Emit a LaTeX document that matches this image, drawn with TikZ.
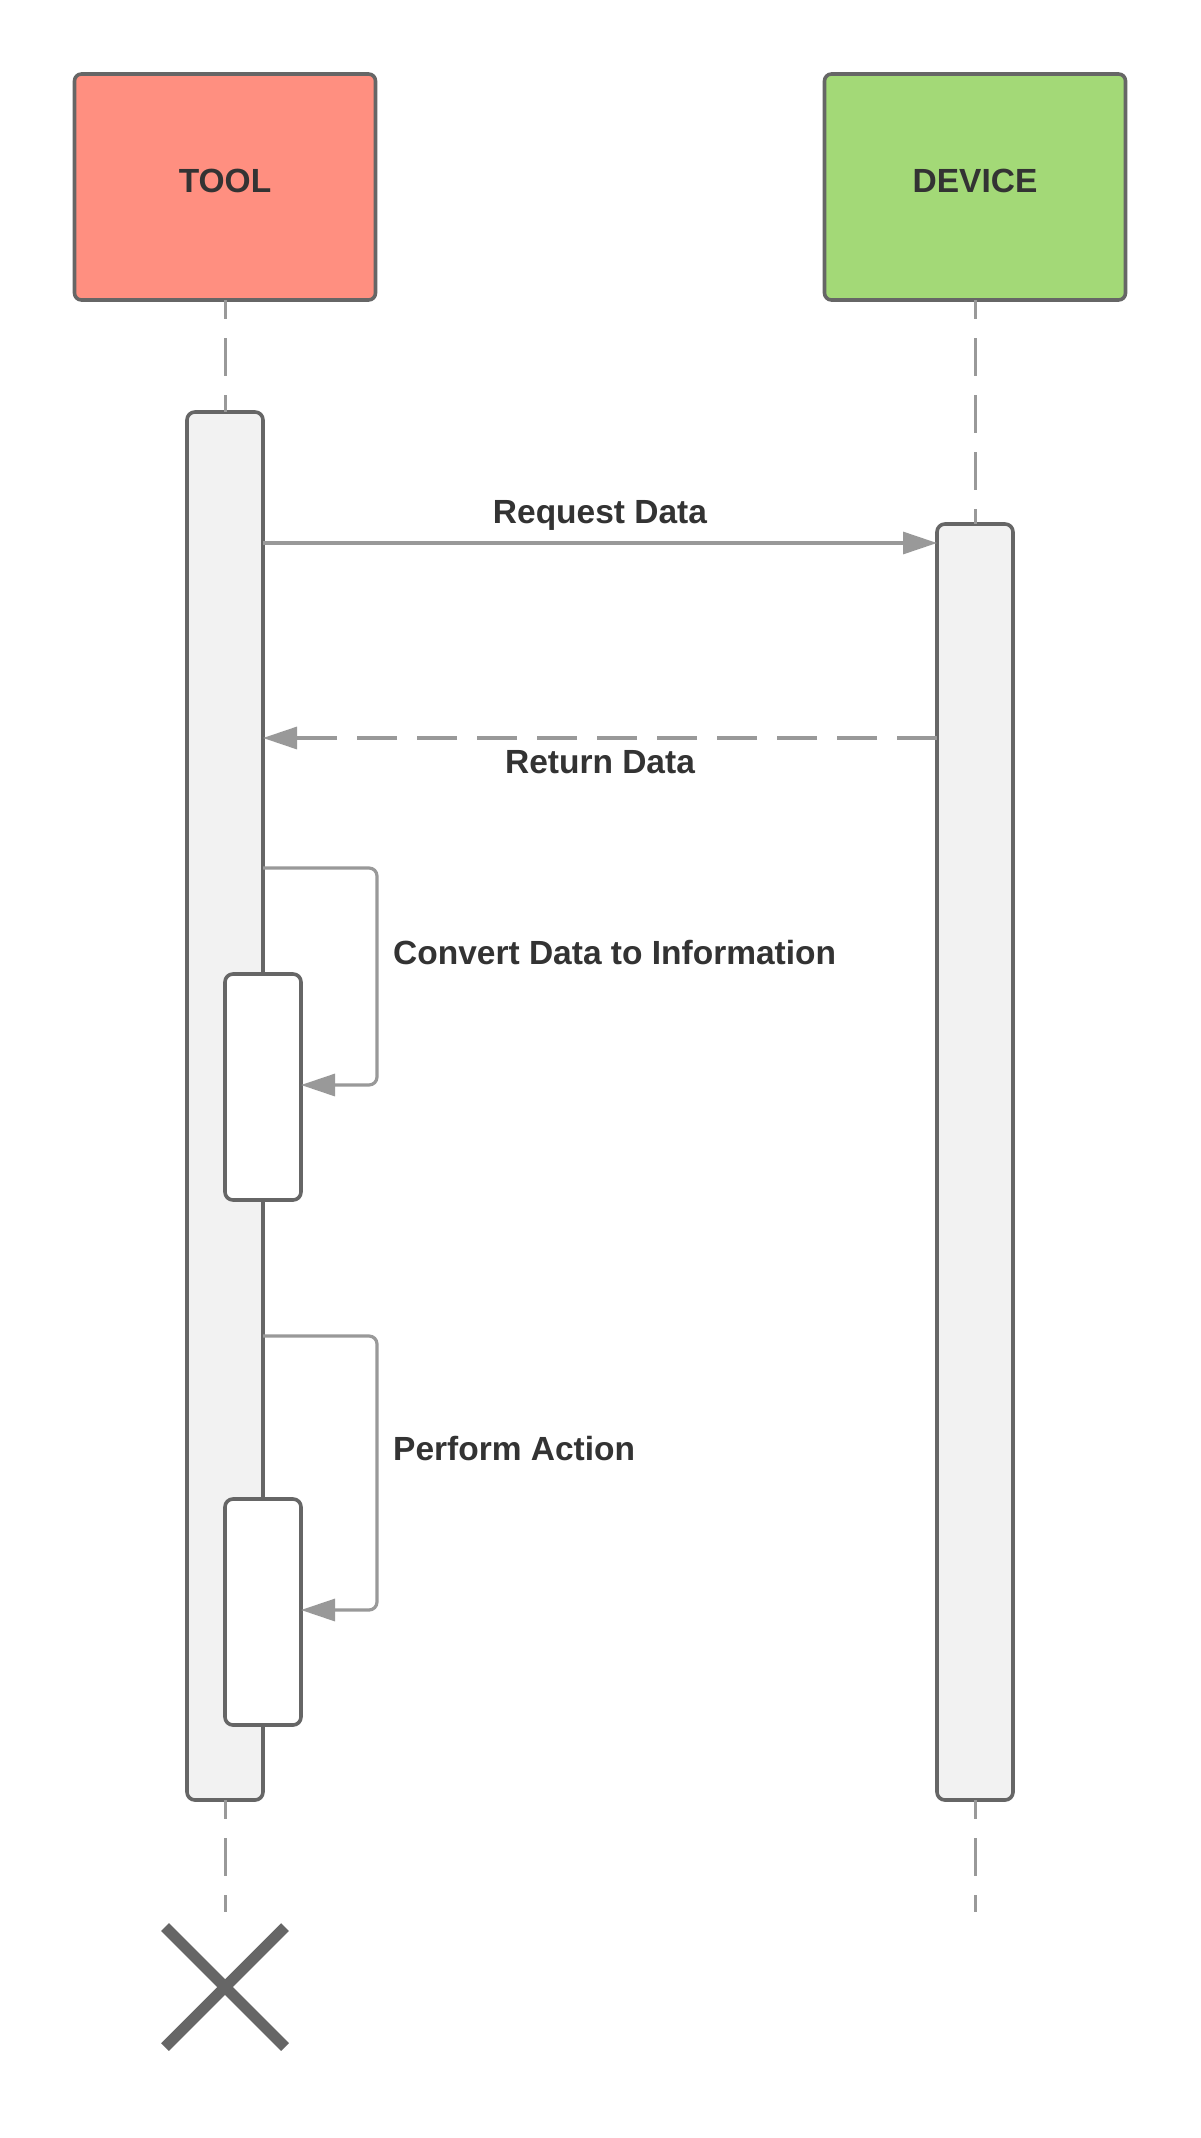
\documentclass[tikz,border=0pt]{standalone}
\usepackage{fontspec}
\setmainfont{Liberation Sans}
\usetikzlibrary{arrows.meta,calc}
\definecolor{edgec}{HTML}{666666}
\definecolor{arrc}{HTML}{999999}
\definecolor{txtc}{HTML}{333333}
\definecolor{toolc}{HTML}{FF8F80}
\definecolor{devc}{HTML}{A3D977}
\definecolor{actc}{HTML}{F2F2F2}
\begin{document}
\begin{tikzpicture}[x=1pt,y=-1pt,
  headbox/.style={draw=edgec, line width=3.6pt, rounded corners=7pt, minimum width=301pt, minimum height=226pt, outer sep=0pt, inner sep=0pt, font=\fontsize{33.5}{40}\selectfont\bfseries, text=txtc, text height=24pt, text depth=14pt},
  actbox/.style={draw=edgec, line width=3.6pt, rounded corners=8pt, fill=actc, minimum width=76pt, outer sep=0pt, inner sep=0pt},
  subbox/.style={actbox, fill=white},
  lifeline/.style={draw=arrc, line width=3pt, dash pattern=on 38pt off 19pt, dash phase=19pt},
  msg/.style={draw=arrc, line width=3.2pt, -{Triangle[length=34pt,width=22pt]}},
  retmsg/.style={msg, dash pattern=on 40pt off 20pt},
  lbl/.style={font=\fontsize{33.5}{40}\selectfont\bfseries, text=txtc, inner sep=0pt}
]
\useasboundingbox (0,0) rectangle (1200,2138);
\fill[white] (0,0) rectangle (1200,2138);

% headers
\node[headbox, fill=toolc] (tool) at (225,187) {TOOL};
\node[headbox, fill=devc] (dev) at (975,187) {DEVICE};

% activations
\node[actbox, minimum height=1388pt] (tact) at (225,1106) {};
\node[actbox, minimum height=1276pt] (dact) at (975,1162) {};

% lifelines
\coordinate (tend) at (225,1912);
\coordinate (dend) at (975,1912);
\draw[lifeline] (tool.south) -- (tact.north);
\draw[lifeline] (dev.south) -- (dact.north);
\draw[lifeline] (tact.south) -- (tend);
\draw[lifeline] (dact.south) -- (dend);

% nested activations
\node[subbox, minimum height=226pt] (n1) at (263,1087) {};
\node[subbox, minimum height=226pt] (n2) at (263,1612) {};

% messages
\coordinate (yreq) at (0,543);
\coordinate (yret) at (0,738);
\coordinate (ys1a) at (0,868);
\coordinate (ys1b) at (0,1085);
\coordinate (ys2a) at (0,1336);
\coordinate (ys2b) at (0,1610);
\draw[msg] (tact.east |- yreq) -- (dact.west |- yreq);
\draw[retmsg] (dact.west |- yret) -- (tact.east |- yret);
\draw[msg, rounded corners=8pt] (tact.east |- ys1a) -- (377,868) -- (377,1085) -- (n1.east |- ys1b);
\draw[msg, rounded corners=8pt] (tact.east |- ys2a) -- (377,1336) -- (377,1610) -- (n2.east |- ys2b);

% labels
\node[lbl, anchor=base] (lreq) at (600,523) {Request Data};
\node[lbl, anchor=base] (lret) at (600,773) {Return Data};
\node[lbl, anchor=base west] (lconv) at (393,964) {Convert Data to Information};
\node[lbl, anchor=base west] (lperf) at (393,1460) {Perform Action};

% destruction mark
\coordinate (xc) at (225,1987);
\draw[edgec, line width=11pt] ($(xc)+(-60,-60)$) -- ($(xc)+(60,60)$);
\draw[edgec, line width=11pt] ($(xc)+(60,-60)$) -- ($(xc)+(-60,60)$);
\end{tikzpicture}
\end{document}
